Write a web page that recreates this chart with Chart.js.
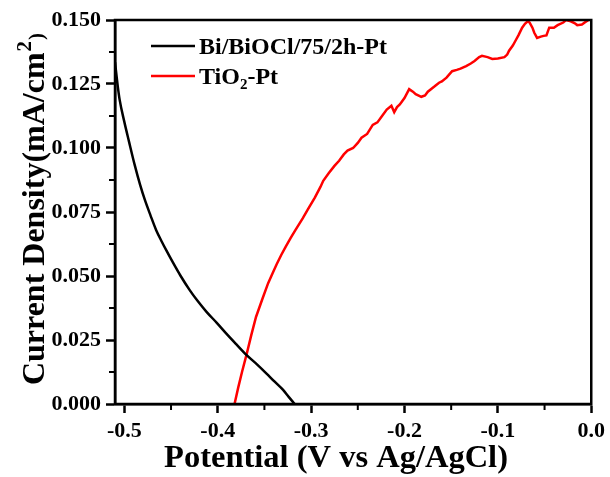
<!DOCTYPE html>
<html>
<head>
<meta charset="utf-8">
<script src="https://cdn.jsdelivr.net/npm/chart.js@4/dist/chart.umd.min.js"></script>
<style>
  html, body { margin: 0; padding: 0; background: #fff; }
  #wrap { width: 610px; height: 477px; }
</style>
</head>
<body>
<div id="wrap"><canvas id="c" width="610" height="477"></canvas></div>
<script>
// Linear sweep voltammetry: potential (V vs Ag/AgCl) and current density (mA/cm²)
const potentialBi = [-0.510, -0.507, -0.505, -0.500, -0.495, -0.489, -0.483, -0.478, -0.472, -0.466, -0.460, -0.455, -0.448, -0.440, -0.430, -0.421, -0.412, -0.401, -0.391, -0.380, -0.369, -0.358, -0.348, -0.339, -0.330, -0.324, -0.3176];
const currentBi   = [0.1335, 0.124, 0.1188, 0.1102, 0.1025, 0.0935, 0.0855, 0.0797, 0.0737, 0.068, 0.0635, 0.060, 0.0553, 0.0502, 0.0445, 0.040, 0.036, 0.0317, 0.0276, 0.0233, 0.0191, 0.0155, 0.012, 0.0087, 0.0055, 0.0028, 0.000];

const potentialTi = [-0.382, -0.378, -0.374, -0.369, -0.364, -0.359, -0.352, -0.346, -0.341, -0.337, -0.332, -0.327, -0.322, -0.317, -0.309, -0.303, -0.296, -0.290, -0.287, -0.281, -0.275, -0.270, -0.265, -0.261, -0.255, -0.250, -0.246, -0.240, -0.234, -0.229, -0.225, -0.219, -0.214, -0.211, -0.208, -0.205, -0.200, -0.195, -0.191, -0.188, -0.182, -0.178, -0.175, -0.168, -0.163, -0.160, -0.155, -0.149, -0.144, -0.140, -0.134, -0.129, -0.125, -0.120, -0.117, -0.111, -0.106, -0.100, -0.093, -0.090, -0.088, -0.084, -0.081, -0.078, -0.074, -0.071, -0.068, -0.066, -0.063, -0.061, -0.058, -0.054, -0.051, -0.048, -0.045, -0.040, -0.036, -0.030, -0.027, -0.022, -0.018, -0.015, -0.010, -0.007, -0.003];
const currentTi   = [0.000, 0.0065, 0.0125, 0.0195, 0.027, 0.034, 0.0412, 0.0472, 0.0513, 0.0545, 0.0582, 0.0616, 0.0648, 0.0678, 0.0725, 0.0763, 0.0806, 0.0848, 0.0872, 0.0902, 0.093, 0.095, 0.0975, 0.099, 0.100, 0.102, 0.104, 0.1055, 0.109, 0.110, 0.112, 0.115, 0.1165, 0.114, 0.116, 0.117, 0.1195, 0.123, 0.122, 0.121, 0.120, 0.1205, 0.122, 0.124, 0.1255, 0.126, 0.1275, 0.130, 0.1305, 0.131, 0.132, 0.133, 0.134, 0.1355, 0.136, 0.1355, 0.1348, 0.135, 0.1355, 0.1365, 0.138, 0.140, 0.142, 0.144, 0.147, 0.1485, 0.1495, 0.149, 0.147, 0.145, 0.143, 0.1435, 0.1438, 0.144, 0.147, 0.147, 0.148, 0.149, 0.150, 0.1495, 0.1488, 0.148, 0.1482, 0.149, 0.150];

const xTickValues = [-0.5, -0.4, -0.3, -0.2, -0.1, 0.0];
const yTickValues = [0.000, 0.025, 0.050, 0.075, 0.100, 0.125, 0.150];

const seriesNames = ['Bi/BiOCl/75/2h-Pt', 'TiO₂-Pt'];
const seriesColors = ['#000000', '#ff0000'];
const xTitle = 'Potential (V vs Ag/AgCl)';
const yTitleParts = ['Current Density(mA/cm', '2', ')'];

const FONT = 'Liberation Serif';
const font = (size) => 'bold ' + size + 'px "' + FONT + '"';

const toPoints = (xs, ys) => xs.map((x, i) => ({ x: x, y: ys[i] }));

// Frame, minor ticks, axis titles and legend are drawn on top of the plot
const decorations = {
  id: 'decorations',
  afterDraw(chart) {
    const { ctx, chartArea: a, scales } = chart;
    ctx.save();
    ctx.strokeStyle = '#000';
    ctx.lineWidth = 2.5;
    ctx.strokeRect(a.left, a.top, a.right - a.left, a.bottom - a.top);

    // minor ticks halfway between major ticks
    ctx.lineWidth = 2;
    ctx.beginPath();
    for (let i = 0; i < xTickValues.length - 1; i++) {
      const px = scales.x.getPixelForValue((xTickValues[i] + xTickValues[i + 1]) / 2);
      ctx.moveTo(px, a.bottom);
      ctx.lineTo(px, a.bottom + 6);
    }
    for (let i = 0; i < yTickValues.length - 1; i++) {
      const py = scales.y.getPixelForValue((yTickValues[i] + yTickValues[i + 1]) / 2);
      ctx.moveTo(a.left, py);
      ctx.lineTo(a.left - 6, py);
    }
    ctx.stroke();

    ctx.fillStyle = '#000';
    ctx.textBaseline = 'alphabetic';

    // x axis title
    ctx.font = font(32.5);
    ctx.textAlign = 'center';
    ctx.fillText(xTitle, 336, 467);
    ctx.textAlign = 'left';

    // y axis title, rotated, with a superscript 2
    ctx.save();
    ctx.translate(44, 209);
    ctx.rotate(-Math.PI / 2);
    ctx.font = font(32);
    const w0 = ctx.measureText(yTitleParts[0]).width;
    ctx.font = font(21);
    const w1 = ctx.measureText(yTitleParts[1]).width;
    const w2 = ctx.measureText(yTitleParts[2]).width;
    let tx = -(w0 + w1 + w2 + 2) / 2;
    ctx.font = font(32);
    ctx.fillText(yTitleParts[0], tx, 0);
    tx += w0 + 1;
    ctx.font = font(21);
    ctx.fillText(yTitleParts[1], tx, -13);
    tx += w1 + 1;
    ctx.fillText(yTitleParts[2], tx, -1);
    ctx.restore();

    // legend
    const lx = a.left + 36, rowY = [a.top + 26, a.top + 56];
    rowY.forEach((y, i) => {
      ctx.strokeStyle = seriesColors[i];
      ctx.lineWidth = 2.5;
      ctx.beginPath();
      ctx.moveTo(lx, y);
      ctx.lineTo(lx + 44, y);
      ctx.stroke();
    });
    const lt = lx + 48;
    ctx.font = font(24);
    ctx.fillText(seriesNames[0], lt, rowY[0] + 8);
    // TiO₂-Pt with a real subscript
    let x = lt;
    ctx.fillText('TiO', x, rowY[1] + 8);
    x += ctx.measureText('TiO').width;
    ctx.font = font(15);
    ctx.fillText('2', x, rowY[1] + 13);
    x += ctx.measureText('2').width;
    ctx.font = font(24);
    ctx.fillText('-Pt', x, rowY[1] + 8);
    ctx.restore();
  }
};

new Chart(document.getElementById('c'), {
  type: 'line',
  data: {
    datasets: [
      {
        label: seriesNames[0],
        data: toPoints(potentialBi, currentBi),
        borderColor: seriesColors[0],
        borderWidth: 2.5,
        pointRadius: 0,
        cubicInterpolationMode: 'monotone',
        fill: false
      },
      {
        label: seriesNames[1],
        data: toPoints(potentialTi, currentTi),
        borderColor: seriesColors[1],
        borderWidth: 2.5,
        pointRadius: 0,
        tension: 0,
        fill: false
      }
    ]
  },
  options: {
    responsive: false,
    animation: false,
    layout: { padding: { left: 0, right: 18, top: 20, bottom: 0 } },
    plugins: { legend: { display: false }, tooltip: { enabled: false } },
    scales: {
      x: {
        type: 'linear',
        min: -0.51,
        max: 0.0,
        afterBuildTicks: (s) => { s.ticks = xTickValues.map(v => ({ value: v })); },
        afterFit: (s) => { s.height = 73; },
        ticks: {
          autoSkip: false,
          maxRotation: 0,
          padding: 5,
          color: '#000',
          font: { family: FONT, size: 22, weight: 'bold' },
          callback: (v) => Number(v).toFixed(1)
        },
        grid: { drawOnChartArea: false, drawTicks: true, tickLength: 9, tickWidth: 2.5, tickColor: '#000' },
        border: { display: true, color: '#000', width: 2.5 },
        title: { display: false }
      },
      y: {
        type: 'linear',
        min: 0,
        max: 0.15,
        afterBuildTicks: (s) => { s.ticks = yTickValues.map(v => ({ value: v })); },
        afterFit: (s) => { s.width = 115; },
        ticks: {
          autoSkip: false,
          padding: 5,
          color: '#000',
          font: { family: FONT, size: 22, weight: 'bold' },
          callback: (v) => Number(v).toFixed(3)
        },
        grid: { drawOnChartArea: false, drawTicks: true, tickLength: 9, tickWidth: 2.5, tickColor: '#000' },
        border: { display: true, color: '#000', width: 2.5 },
        title: { display: false }
      }
    }
  },
  plugins: [decorations]
});
</script>
</body>
</html>
